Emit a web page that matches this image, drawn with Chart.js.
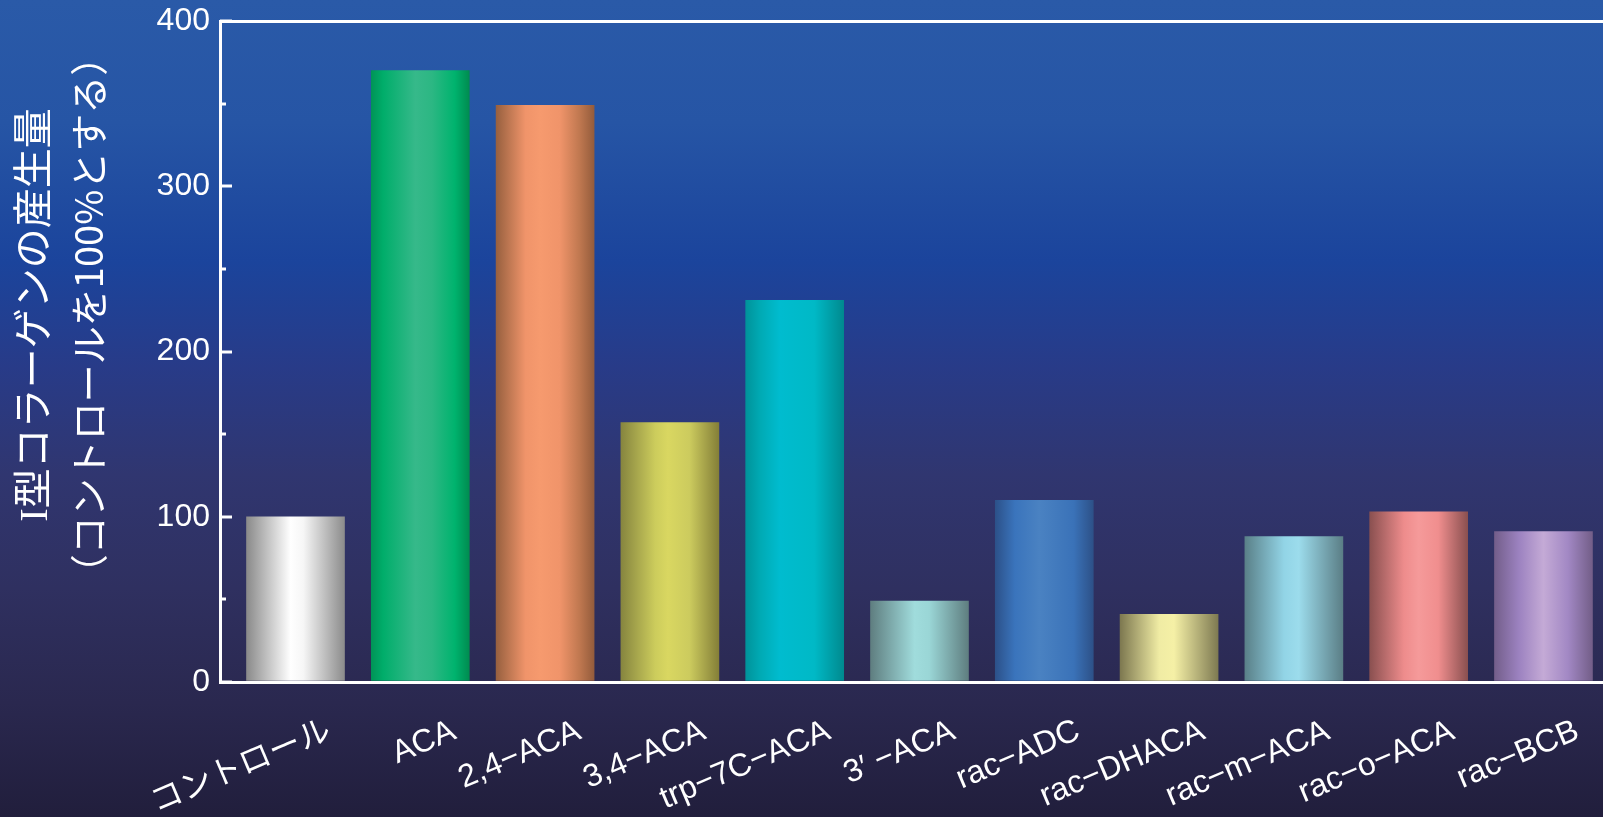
<!DOCTYPE html>
<html>
<head>
<meta charset="utf-8">
<script src="https://cdn.jsdelivr.net/npm/chart.js@4.4.1/dist/chart.umd.min.js"></script>
<style>
  html, body { margin: 0; padding: 0; background: #221f3e; overflow: hidden; }
  #wrap { width: 1603px; height: 817px; }
  canvas { display: block; }
</style>
</head>
<body>
<div id="wrap"><canvas id="chart" width="1603" height="817"></canvas></div>
<script>
// Compounds tested and the type I collagen production for each (control = 100%)
const categories = ['コントロール', 'ACA', '2,4−ACA', '3,4−ACA', 'trp−7C−ACA', '3′ −ACA',
                    'rac−ADC', 'rac−DHACA', 'rac−m−ACA', 'rac−o−ACA', 'rac−BCB'];
const production = [100, 370, 349, 157, 231, 49, 110, 41, 88, 103, 91];
const yTickLabels = [0, 100, 200, 300, 400];
const yTitle = ['I型コラーゲンの産生量', '（コントロールを100%とする）'];

// Cylinder-like horizontal shading for each bar: [stop, colour]
const barShading = [
  [[0, '#8a8a8a'], [0.45, '#ffffff'], [0.58, '#f6f6f6'], [1, '#8c8c8c']],
  [[0, '#009457'], [0.12, '#00ad6a'], [0.45, '#36b98a'], [0.62, '#2cb783'], [0.85, '#00b36e'], [1, '#008c50']],
  [[0, '#97603f'], [0.3, '#f0946a'], [0.45, '#f69a6e'], [0.65, '#f0946a'], [0.85, '#c07850'], [1, '#945c3c']],
  [[0, '#86853f'], [0.35, '#cccc5c'], [0.48, '#d9d761'], [0.7, '#cccb5e'], [1, '#847f38']],
  [[0, '#00939a'], [0.15, '#00aab4'], [0.35, '#00bccf'], [0.7, '#00b9c6'], [1, '#008a8f']],
  [[0, '#5f7e80'], [0.45, '#a0dcdc'], [0.6, '#9ad6d6'], [1, '#5f7e80']],
  [[0, '#2c5189'], [0.2, '#3a74bc'], [0.45, '#4a82c2'], [0.8, '#3a72b8'], [1, '#2d5188']],
  [[0, '#7d7850'], [0.4, '#f0eca4'], [0.55, '#f5f0a6'], [1, '#7e7a52']],
  [[0, '#5a8088'], [0.4, '#92d4e6'], [0.55, '#9cdcec'], [1, '#5b7e86']],
  [[0, '#8a5050'], [0.35, '#ee8c8c'], [0.5, '#f59a9a'], [0.7, '#f08e8e'], [1, '#8a5050']],
  [[0, '#735e8a'], [0.25, '#9c82c0'], [0.5, '#c4aad6'], [0.75, '#a288c4'], [1, '#735e88']]
];

const BAR_WIDTH = 98;
const WHITE = '#ffffff';

// Deep blue backdrop fading to dark navy
const backdrop = {
  id: 'backdrop',
  beforeDraw(chart) {
    const { ctx, width, height } = chart;
    const g = ctx.createLinearGradient(0, 0, 0, height);
    g.addColorStop(0, '#2a5aa8');
    g.addColorStop(0.15, '#2655a5');
    g.addColorStop(0.32, '#1b449c');
    g.addColorStop(0.45, '#283b88');
    g.addColorStop(0.58, '#303670');
    g.addColorStop(0.72, '#2f3060');
    g.addColorStop(0.86, '#2a284f');
    g.addColorStop(1, '#211e3c');
    ctx.save();
    ctx.fillStyle = g;
    ctx.fillRect(0, 0, width, height);
    ctx.restore();
  }
};

// Tick marks pointing into the plot area, long at labelled values
const innerTicks = {
  id: 'innerTicks',
  afterDraw(chart) {
    const { ctx, chartArea } = chart;
    const y = chart.scales.y;
    ctx.save();
    ctx.strokeStyle = WHITE;
    ctx.lineWidth = 3;
    y.ticks.forEach(t => {
      const py = Math.round(y.getPixelForValue(t.value));
      const len = yTickLabels.includes(t.value) ? 12 : 6;
      ctx.beginPath();
      ctx.moveTo(chartArea.left, py);
      ctx.lineTo(chartArea.left + len, py);
      ctx.stroke();
    });
    ctx.restore();
  }
};

// Two-line vertical axis title
const axisTitle = {
  id: 'axisTitle',
  afterDraw(chart) {
    const { ctx } = chart;
    const lines = [
      { x: 36, font: '40px "Liberation Serif", "Noto Sans CJK JP", serif' },
      { x: 89, font: '38px "Noto Sans CJK JP", sans-serif' }
    ];
    ctx.save();
    ctx.fillStyle = WHITE;
    ctx.textAlign = 'center';
    ctx.textBaseline = 'middle';
    yTitle.forEach((text, i) => {
      ctx.save();
      ctx.font = lines[i].font;
      ctx.translate(lines[i].x, 315);
      ctx.rotate(-Math.PI / 2);
      ctx.fillText(text, 0, 0);
      ctx.restore();
    });
    ctx.restore();
  }
};

function shadedBar(context) {
  const i = context.dataIndex;
  if (context.type !== 'data' || i === undefined) return '#888888';
  const chart = context.chart;
  const xs = chart.scales.x;
  if (!xs || !chart.chartArea) return barShading[i][1][1];
  const cx = xs.getPixelForValue(context.raw.x);
  const g = chart.ctx.createLinearGradient(cx - BAR_WIDTH / 2, 0, cx + BAR_WIDTH / 2, 0);
  barShading[i].forEach(([s, c]) => g.addColorStop(s, c));
  return g;
}

new Chart(document.getElementById('chart'), {
  type: 'bar',
  data: {
    datasets: [{
      data: production.map((v, i) => ({ x: i, y: v })),
      backgroundColor: shadedBar,
      borderWidth: 0,
      barThickness: BAR_WIDTH
    }]
  },
  options: {
    responsive: false,
    animation: false,
    devicePixelRatio: 1,
    layout: { padding: { top: 21, left: 0, right: 0, bottom: 0 } },
    plugins: { legend: { display: false }, tooltip: { enabled: false } },
    scales: {
      x: {
        type: 'linear',
        offset: false,
        min: -0.605,
        max: 10.477,
        afterBuildTicks(scale) {
          scale.ticks = categories.map((_, i) => ({ value: i }));
        },
        afterFit(scale) {
          scale.height = 135;
          scale.paddingLeft = 0;
          scale.paddingRight = 0;
        },
        grid: { display: false, drawTicks: false, offset: false },
        border: { display: true, color: WHITE, width: 3 },
        ticks: {
          autoSkip: false,
          minRotation: 23,
          maxRotation: 23,
          padding: 30,
          labelOffset: 34,
          color: WHITE,
          font: { family: '"Liberation Sans", "Noto Sans CJK JP", sans-serif', size: 32 },
          callback: (v) => categories[Math.round(v)] ?? ''
        }
      },
      y: {
        min: 0,
        max: 400,
        afterFit(scale) {
          scale.width = 220;
          scale.paddingTop = 0;
          scale.paddingBottom = 0;
        },
        grid: {
          drawTicks: false,
          lineWidth: 3,
          color: (ctx) => (ctx.tick && ctx.tick.value === 400 ? WHITE : 'rgba(0,0,0,0)')
        },
        border: { display: true, color: WHITE, width: 3 },
        ticks: {
          stepSize: 50,
          padding: 10,
          color: WHITE,
          font: { family: '"Liberation Sans", Arial, sans-serif', size: 32 },
          callback: (v) => (yTickLabels.includes(v) ? String(v) : '')
        }
      }
    }
  },
  plugins: [backdrop, innerTicks, axisTitle]
});
</script>
</body>
</html>
